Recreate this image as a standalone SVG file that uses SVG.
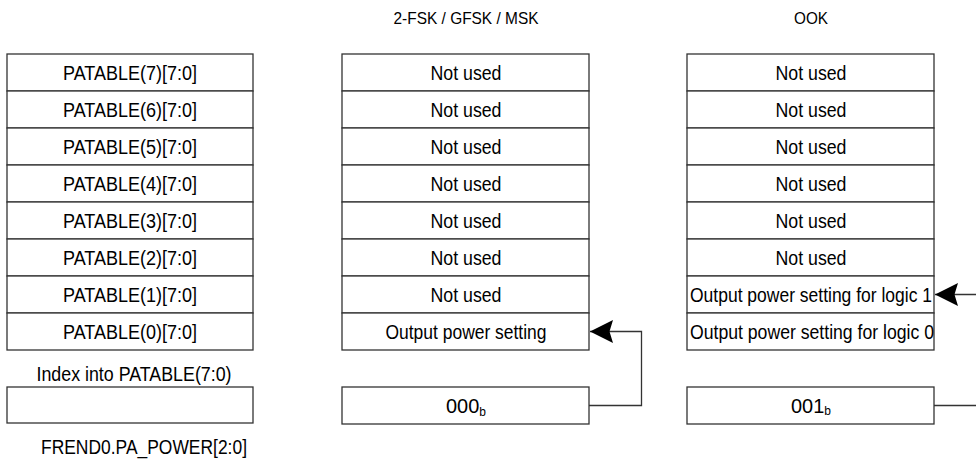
<svg xmlns="http://www.w3.org/2000/svg" width="976" height="461" viewBox="0 0 976 461">
<style>
.cell{fill:#fff;stroke:#333;stroke-width:1.3}
.t{font-family:"Liberation Sans",Arial,sans-serif;font-size:20px;fill:#000}
.c{text-anchor:middle}
.h{font-family:"Liberation Sans",Arial,sans-serif;font-size:17px;fill:#000;text-anchor:middle}
.sub{font-size:12px}
.conn{fill:none;stroke:#333;stroke-width:1.3}
</style>
<defs>
<marker id="ah" viewBox="-24 -12 25 24" markerWidth="25" markerHeight="24" refX="0" refY="0" orient="auto" markerUnits="userSpaceOnUse">
<path d="M0,0 L-23,-11.5 L-19.5,0 L-23,11.5 Z" fill="#000"/>
</marker>
</defs>
<rect width="976" height="461" fill="#fff"/>

<g id="header-fsk"><text class="h" x="466" y="24" textLength="145" lengthAdjust="spacingAndGlyphs">2-FSK / GFSK / MSK</text></g>
<g id="header-ook"><text class="h" x="811" y="23.5" textLength="34" lengthAdjust="spacingAndGlyphs">OOK</text></g>

<g id="patable">
<g id="pa7"><rect class="cell" x="7" y="54" width="246" height="37"/><text class="t c" x="130" y="80" textLength="134" lengthAdjust="spacingAndGlyphs">PATABLE(7)[7:0]</text></g>
<g id="pa6"><rect class="cell" x="7" y="91" width="246" height="37"/><text class="t c" x="130" y="117" textLength="134" lengthAdjust="spacingAndGlyphs">PATABLE(6)[7:0]</text></g>
<g id="pa5"><rect class="cell" x="7" y="128" width="246" height="37"/><text class="t c" x="130" y="154" textLength="134" lengthAdjust="spacingAndGlyphs">PATABLE(5)[7:0]</text></g>
<g id="pa4"><rect class="cell" x="7" y="165" width="246" height="37"/><text class="t c" x="130" y="191" textLength="134" lengthAdjust="spacingAndGlyphs">PATABLE(4)[7:0]</text></g>
<g id="pa3"><rect class="cell" x="7" y="202" width="246" height="37"/><text class="t c" x="130" y="228" textLength="134" lengthAdjust="spacingAndGlyphs">PATABLE(3)[7:0]</text></g>
<g id="pa2"><rect class="cell" x="7" y="239" width="246" height="37"/><text class="t c" x="130" y="265" textLength="134" lengthAdjust="spacingAndGlyphs">PATABLE(2)[7:0]</text></g>
<g id="pa1"><rect class="cell" x="7" y="276" width="246" height="37"/><text class="t c" x="130" y="302" textLength="134" lengthAdjust="spacingAndGlyphs">PATABLE(1)[7:0]</text></g>
<g id="pa0"><rect class="cell" x="7" y="313" width="246" height="37"/><text class="t c" x="130" y="339" textLength="134" lengthAdjust="spacingAndGlyphs">PATABLE(0)[7:0]</text></g>
</g>

<g id="index-label"><text class="t c" x="134" y="381" textLength="195" lengthAdjust="spacingAndGlyphs">Index into PATABLE(7:0)</text></g>
<g id="index-box"><rect class="cell" x="7" y="387" width="246" height="36"/></g>
<g id="frend-label"><text class="t c" x="144" y="453.5" textLength="206" lengthAdjust="spacingAndGlyphs">FREND0.PA_POWER[2:0]</text></g>

<g id="fsk">
<g id="fsk7"><rect class="cell" x="342" y="54" width="247" height="37"/><text class="t c" x="466" y="80" textLength="71" lengthAdjust="spacingAndGlyphs">Not used</text></g>
<g id="fsk6"><rect class="cell" x="342" y="91" width="247" height="37"/><text class="t c" x="466" y="117" textLength="71" lengthAdjust="spacingAndGlyphs">Not used</text></g>
<g id="fsk5"><rect class="cell" x="342" y="128" width="247" height="37"/><text class="t c" x="466" y="154" textLength="71" lengthAdjust="spacingAndGlyphs">Not used</text></g>
<g id="fsk4"><rect class="cell" x="342" y="165" width="247" height="37"/><text class="t c" x="466" y="191" textLength="71" lengthAdjust="spacingAndGlyphs">Not used</text></g>
<g id="fsk3"><rect class="cell" x="342" y="202" width="247" height="37"/><text class="t c" x="466" y="228" textLength="71" lengthAdjust="spacingAndGlyphs">Not used</text></g>
<g id="fsk2"><rect class="cell" x="342" y="239" width="247" height="37"/><text class="t c" x="466" y="265" textLength="71" lengthAdjust="spacingAndGlyphs">Not used</text></g>
<g id="fsk1"><rect class="cell" x="342" y="276" width="247" height="37"/><text class="t c" x="466" y="302" textLength="71" lengthAdjust="spacingAndGlyphs">Not used</text></g>
<g id="fsk0"><rect class="cell" x="342" y="313" width="247" height="37"/><text class="t c" x="466" y="339" textLength="161" lengthAdjust="spacingAndGlyphs">Output power setting</text></g>
</g>
<g id="fsk-index"><rect class="cell" x="342" y="387" width="247" height="37"/><text class="t c" x="466" y="413" textLength="40" lengthAdjust="spacingAndGlyphs">000<tspan class="sub" dy="3">b</tspan></text></g>

<g id="ook">
<g id="ook7"><rect class="cell" x="687" y="54" width="247" height="37"/><text class="t c" x="811" y="80" textLength="71" lengthAdjust="spacingAndGlyphs">Not used</text></g>
<g id="ook6"><rect class="cell" x="687" y="91" width="247" height="37"/><text class="t c" x="811" y="117" textLength="71" lengthAdjust="spacingAndGlyphs">Not used</text></g>
<g id="ook5"><rect class="cell" x="687" y="128" width="247" height="37"/><text class="t c" x="811" y="154" textLength="71" lengthAdjust="spacingAndGlyphs">Not used</text></g>
<g id="ook4"><rect class="cell" x="687" y="165" width="247" height="37"/><text class="t c" x="811" y="191" textLength="71" lengthAdjust="spacingAndGlyphs">Not used</text></g>
<g id="ook3"><rect class="cell" x="687" y="202" width="247" height="37"/><text class="t c" x="811" y="228" textLength="71" lengthAdjust="spacingAndGlyphs">Not used</text></g>
<g id="ook2"><rect class="cell" x="687" y="239" width="247" height="37"/><text class="t c" x="811" y="265" textLength="71" lengthAdjust="spacingAndGlyphs">Not used</text></g>
<g id="ook1"><rect class="cell" x="687" y="276" width="247" height="37"/><text class="t" x="690" y="302" textLength="242" lengthAdjust="spacingAndGlyphs">Output power setting for logic 1</text></g>
<g id="ook0"><rect class="cell" x="687" y="313" width="247" height="37"/><text class="t" x="690" y="339" textLength="244" lengthAdjust="spacingAndGlyphs">Output power setting for logic 0</text></g>
</g>
<g id="ook-index"><rect class="cell" x="687" y="387" width="247" height="37"/><text class="t c" x="811" y="413" textLength="40" lengthAdjust="spacingAndGlyphs">001<tspan class="sub" dy="2">b</tspan></text></g>

<g id="connectors">
<path class="conn" d="M589,405.5 H641.5 V331.5 H590" marker-end="url(#ah)"/>
<path class="conn" d="M976,294.5 H935" marker-end="url(#ah)"/>
<path class="conn" d="M934,405.5 H976"/>
</g>
</svg>
